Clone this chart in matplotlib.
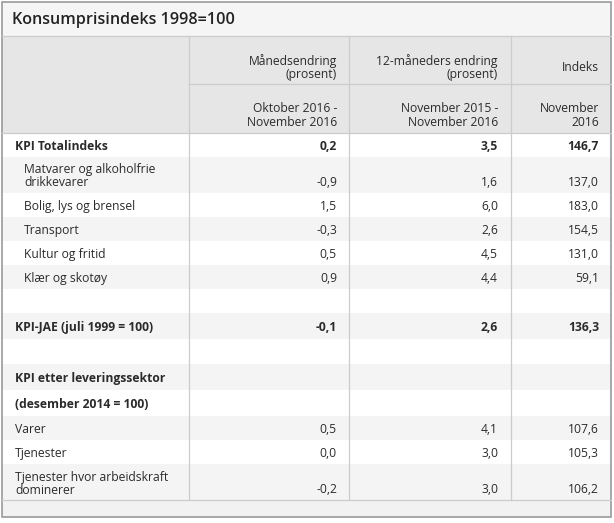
import matplotlib.pyplot as plt
from matplotlib.patches import Rectangle

plt.rcParams['font.family'] = ['Open Sans', 'DejaVu Sans']

# table data
title = "Konsumprisindeks 1998=100"
col_titles = ["Månedsendring\n(prosent)", "12-måneders endring\n(prosent)", "Indeks"]
col_periods = ["Oktober 2016 -\nNovember 2016", "November 2015 -\nNovember 2016", "November\n2016"]

labels = ["KPI Totalindeks", "Matvarer og alkoholfrie\ndrikkevarer", "Bolig, lys og brensel",
          "Transport", "Kultur og fritid", "Klær og skotøy", "",
          "KPI-JAE (juli 1999 = 100)", "", "KPI etter leveringssektor",
          "(desember 2014 = 100)", "Varer", "Tjenester",
          "Tjenester hvor arbeidskraft\ndominerer"]
month_change = [0.2, -0.9, 1.5, -0.3, 0.5, 0.9, None, -0.1, None, None, None, 0.5, 0.0, -0.2]
year_change = [3.5, 1.6, 6.0, 2.6, 4.5, 4.4, None, 2.6, None, None, None, 4.1, 3.0, 3.0]
index_value = [146.7, 137.0, 183.0, 154.5, 131.0, 59.1, None, 136.3, None, None, None, 107.6, 105.3, 106.2]
bold_rows = [0, 7, 9, 10]
indented_rows = [1, 2, 3, 4, 5]

# layout (pixels)
W, H = 614, 523
row_heights = [24, 36, 24, 24, 24, 24, 24, 26, 25, 26, 26, 24, 24, 36]
col_lines = [189, 349, 511]
value_x = [337, 498, 599]
left, right = 2, 611
title_bottom, header_mid, header_bottom = 36, 84, 133
bottom = 517
text_color = '#2b2b2b'
line_color = '#cccccc'
fs = 8.7
dy = 1.5  # small downward nudge so text sits like the original

fig = plt.figure(figsize=(W / 100, H / 100), dpi=100)
ax = fig.add_axes([0, 0, 1, 1])
ax.set_xlim(0, W)
ax.set_ylim(H, 0)
ax.axis('off')


def fmt(v):
    return '' if v is None else f"{v:.1f}".replace('.', ',')


# title bar and header backgrounds
ax.add_patch(Rectangle((left, 2), right - left, title_bottom - 2, facecolor='#f5f5f5', edgecolor='none'))
ax.add_patch(Rectangle((left, title_bottom), right - left, header_bottom - title_bottom,
                       facecolor='#e6e6e6', edgecolor='none'))
ax.text(12, 19 + dy, title, fontsize=11.6, color='#222222', va='center', ha='left', fontweight='semibold')

for i in range(3):
    ax.text(value_x[i], 66 + dy, col_titles[i], fontsize=fs, color=text_color, ha='right', va='center',
            multialignment='right', linespacing=1.0)
    ax.text(value_x[i], 114 + dy, col_periods[i], fontsize=fs, color=text_color, ha='right', va='center',
            multialignment='right', linespacing=1.0)

# body rows
y = header_bottom
for i, lab in enumerate(labels):
    h = row_heights[i]
    bg = 'white' if i % 2 == 0 else '#f4f4f4'
    ax.add_patch(Rectangle((left, y), right - left, h, facecolor=bg, edgecolor='none'))
    yc = y + h / 2 + dy
    weight = 'bold' if i in bold_rows else 'normal'
    lx = 24 if i in indented_rows else 15
    ax.text(lx, yc, lab, fontsize=fs, color=text_color, ha='left', va='center',
            fontweight=weight, linespacing=1.0)
    yv = yc + 6 if '\n' in lab else yc
    for j, col in enumerate([month_change, year_change, index_value]):
        ax.text(value_x[j], yv, fmt(col[i]), fontsize=fs, color=text_color, ha='right',
                va='center', fontweight=weight)
    y += h
body_bottom = y

# footer
ax.add_patch(Rectangle((left, body_bottom), right - left, bottom - body_bottom,
                       facecolor='#f2f2f2', edgecolor='none'))

# grid lines
lw = 0.9
ax.plot([left, right], [title_bottom, title_bottom], color=line_color, lw=lw)
ax.plot([col_lines[0], right], [header_mid, header_mid], color=line_color, lw=lw)
ax.plot([left, right], [header_bottom, header_bottom], color=line_color, lw=lw)
ax.plot([left, right], [body_bottom, body_bottom], color=line_color, lw=lw)
for x in col_lines:
    ax.plot([x, x], [title_bottom, body_bottom], color=line_color, lw=lw)

# outer border
ax.add_patch(Rectangle((left, 2), right - left, bottom - 2, facecolor='none',
                       edgecolor='#9a9a9a', lw=1.2))

fig.savefig('out.png', dpi=100)
